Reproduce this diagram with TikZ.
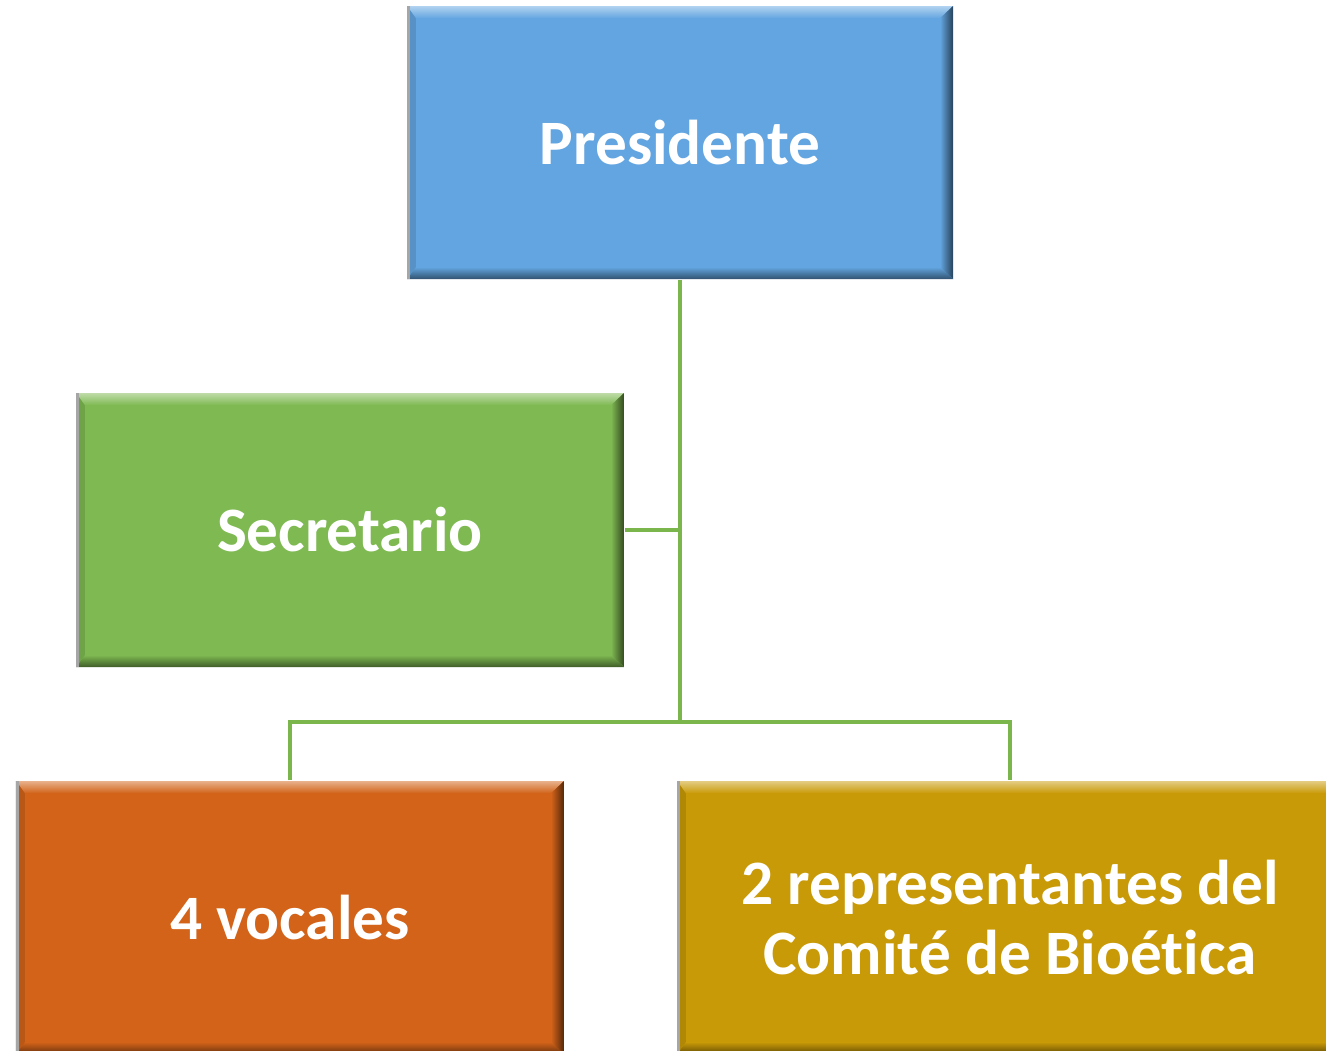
\documentclass[tikz,border=0pt]{standalone}
\usepackage{fontspec}
\setmainfont[Ligatures=NoCommon]{Carlito}
\usetikzlibrary{positioning}
\definecolor{presblue}{RGB}{99,165,224}
\definecolor{secgreen}{RGB}{126,185,81}
\definecolor{vocorange}{RGB}{210,99,25}
\definecolor{repgold}{RGB}{201,154,7}
\definecolor{linkgreen}{RGB}{122,182,76}
\begin{document}
\begin{tikzpicture}[
    box/.style={rectangle, fill=#1, text=white, align=center, inner sep=0pt,
      minimum width=5.47cm, minimum height=2.73cm,
      font=\fontsize{18}{20}\selectfont\bfseries,
      path picture={
        \coordinate (bnw) at (path picture bounding box.north west);
        \coordinate (bne) at (path picture bounding box.north east);
        \coordinate (bsw) at (path picture bounding box.south west);
        \coordinate (bse) at (path picture bounding box.south east);
        \shade[top color=#1!50!white, bottom color=#1] (bnw) -- (bne) -- ([shift={(-3.7pt,-3.5pt)}]bne) -- ([shift={(2.5pt,-3.5pt)}]bnw) -- cycle;
        \shade[left color=#1, right color=#1!40!black] (bne) -- (bse) -- ([shift={(-3.7pt,3.4pt)}]bse) -- ([shift={(-3.7pt,-3.5pt)}]bne) -- cycle;
        \shade[top color=#1, bottom color=#1!50!black] (bsw) -- (bse) -- ([shift={(-3.7pt,3.4pt)}]bse) -- ([shift={(2.5pt,3.4pt)}]bsw) -- cycle;
        \fill[#1!88!black] (bnw) -- (bsw) -- ([shift={(2.5pt,3.4pt)}]bsw) -- ([shift={(2.5pt,-3.5pt)}]bnw) -- cycle;
        \fill[black!35] (bnw) rectangle ([xshift=0.9pt]bsw);
      }},
    link/.style={draw=linkgreen, line width=1pt}
  ]
  \path[use as bounding box, clip] (0,0) rectangle (13.26,-10.5);
  \fill[white] (0,0) rectangle (13.26,-10.5);

  \node (pres) [box=presblue, minimum width=5.46cm] at (6.80,-1.425) {Presidente};
  \node (sec) [box=secgreen, minimum width=5.48cm, minimum height=2.74cm] at (3.50,-5.30) {Secretario};
  \node (vocal) [box=vocorange, minimum width=5.48cm] at (2.90,-9.175) {4 vocales};
  \node (rep) [box=repgold, minimum width=6.66cm] at (10.10,-9.175) {2 representantes del\\Comité de Bioética};

  \coordinate (split) at (6.80,-7.22);

  \draw [link] (pres.south) -- (split);
  \draw [link] (sec.east) -- (sec.east -| pres.south);
  \draw [link] (vocal.north) |- (split) -| (rep.north);
\end{tikzpicture}
\end{document}
